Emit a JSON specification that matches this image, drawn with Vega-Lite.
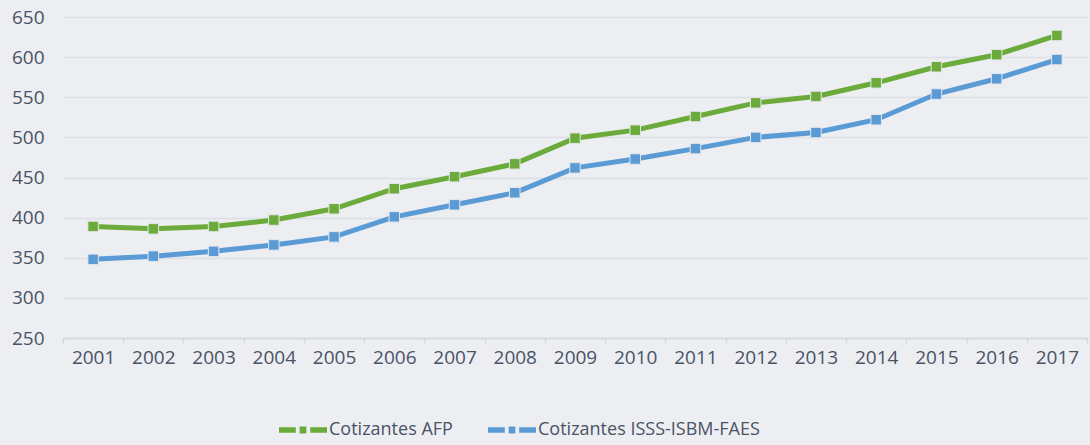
{
  "$schema": "https://vega.github.io/schema/vega-lite/v6.json",
  "width": 1024,
  "height": 321,
  "autosize": {"type": "none"},
  "padding": {"left": 63, "top": 17, "right": 3, "bottom": 107},
  "background": "#edeef2",
  "config": {"view": {"stroke": null}, "font": "Open Sans"},
  "data": {
    "values": [
      {"year": "2001", "serie": "Cotizantes AFP", "value": 389},
      {"year": "2002", "serie": "Cotizantes AFP", "value": 386},
      {"year": "2003", "serie": "Cotizantes AFP", "value": 389},
      {"year": "2004", "serie": "Cotizantes AFP", "value": 397},
      {"year": "2005", "serie": "Cotizantes AFP", "value": 411},
      {"year": "2006", "serie": "Cotizantes AFP", "value": 436},
      {"year": "2007", "serie": "Cotizantes AFP", "value": 451},
      {"year": "2008", "serie": "Cotizantes AFP", "value": 467},
      {"year": "2009", "serie": "Cotizantes AFP", "value": 499},
      {"year": "2010", "serie": "Cotizantes AFP", "value": 509},
      {"year": "2011", "serie": "Cotizantes AFP", "value": 526},
      {"year": "2012", "serie": "Cotizantes AFP", "value": 543},
      {"year": "2013", "serie": "Cotizantes AFP", "value": 551},
      {"year": "2014", "serie": "Cotizantes AFP", "value": 568},
      {"year": "2015", "serie": "Cotizantes AFP", "value": 588},
      {"year": "2016", "serie": "Cotizantes AFP", "value": 603},
      {"year": "2017", "serie": "Cotizantes AFP", "value": 627},
      {"year": "2001", "serie": "Cotizantes ISSS-ISBM-FAES", "value": 348},
      {"year": "2002", "serie": "Cotizantes ISSS-ISBM-FAES", "value": 352},
      {"year": "2003", "serie": "Cotizantes ISSS-ISBM-FAES", "value": 358},
      {"year": "2004", "serie": "Cotizantes ISSS-ISBM-FAES", "value": 366},
      {"year": "2005", "serie": "Cotizantes ISSS-ISBM-FAES", "value": 376},
      {"year": "2006", "serie": "Cotizantes ISSS-ISBM-FAES", "value": 401},
      {"year": "2007", "serie": "Cotizantes ISSS-ISBM-FAES", "value": 416},
      {"year": "2008", "serie": "Cotizantes ISSS-ISBM-FAES", "value": 431},
      {"year": "2009", "serie": "Cotizantes ISSS-ISBM-FAES", "value": 462},
      {"year": "2010", "serie": "Cotizantes ISSS-ISBM-FAES", "value": 473},
      {"year": "2011", "serie": "Cotizantes ISSS-ISBM-FAES", "value": 486},
      {"year": "2012", "serie": "Cotizantes ISSS-ISBM-FAES", "value": 500},
      {"year": "2013", "serie": "Cotizantes ISSS-ISBM-FAES", "value": 506},
      {"year": "2014", "serie": "Cotizantes ISSS-ISBM-FAES", "value": 522},
      {"year": "2015", "serie": "Cotizantes ISSS-ISBM-FAES", "value": 554},
      {"year": "2016", "serie": "Cotizantes ISSS-ISBM-FAES", "value": 573},
      {"year": "2017", "serie": "Cotizantes ISSS-ISBM-FAES", "value": 597}
    ]
  },
  "encoding": {
    "x": {
      "field": "year",
      "type": "ordinal",
      "scale": {"paddingInner": 0, "paddingOuter": 0},
      "axis": {
        "title": null,
        "labelAngle": 0,
        "labelFontSize": 19,
        "labelColor": "#4a5366",
        "tickBand": "extent",
        "ticks": true,
        "tickColor": "#d3d7de",
        "tickWidth": 1.5,
        "tickSize": 5,
        "domainColor": "#d3d7de",
        "domainWidth": 1.5,
        "grid": false,
        "labelPadding": 5
      }
    },
    "y": {
      "field": "value",
      "type": "quantitative",
      "scale": {"domain": [250, 650], "nice": false, "zero": false},
      "axis": {
        "title": null,
        "values": [250, 300, 350, 400, 450, 500, 550, 600, 650],
        "grid": true,
        "gridColor": "#dcdfe5",
        "gridWidth": 1.5,
        "domain": false,
        "ticks": false,
        "labelPadding": 19,
        "labelFontSize": 19,
        "labelColor": "#4a5366"
      }
    },
    "color": {
      "field": "serie",
      "type": "nominal",
      "scale": {
        "domain": ["Cotizantes AFP", "Cotizantes ISSS-ISBM-FAES"],
        "range": ["#6aab3b", "#5b9bd5"]
      },
      "legend": {
        "orient": "none",
        "legendX": 216,
        "legendY": 389,
        "direction": "horizontal",
        "title": null,
        "symbolType": "M-1,-0.11H-0.3V0.11H-1Z M-0.14,-0.15H0.14V0.15H-0.14Z M0.3,-0.11H1V0.11H0.3Z",
        "symbolSize": 2304,
        "symbolStrokeWidth": 0,
        "labelFontSize": 18,
        "labelLimit": 400,
        "labelColor": "#4a5366",
        "labelOffset": 2,
        "columnPadding": 35,
        "encode": {
          "symbols": {
            "update": {
              "fill": {"scale": "color", "field": "value"},
              "fillOpacity": {"value": 1},
              "strokeWidth": {"value": 0}
            }
          }
        }
      }
    }
  },
  "layer": [
    {"mark": {"type": "line", "strokeWidth": 5}},
    {
      "mark": {
        "type": "point",
        "shape": "square",
        "filled": true,
        "size": 110,
        "opacity": 1,
        "stroke": "#e4e6ea",
        "strokeWidth": 1
      }
    }
  ]
}
